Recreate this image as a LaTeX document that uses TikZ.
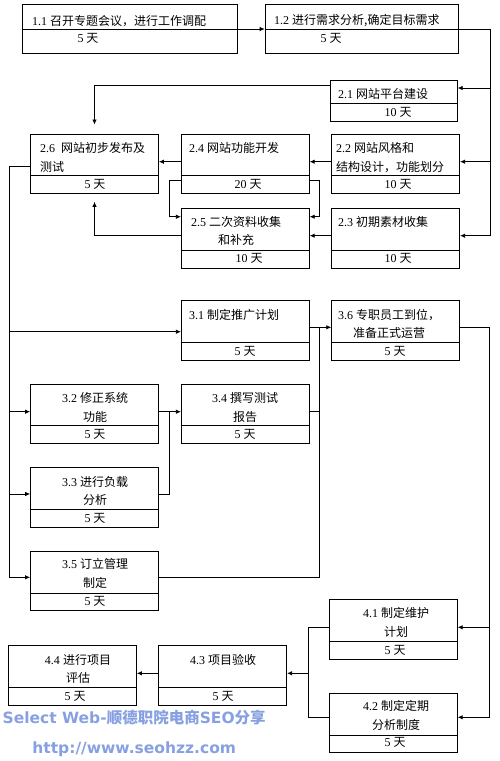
\documentclass[tikz,border=0pt]{standalone}
\usepackage{fontspec}
\setmainfont{Liberation Serif}
\newfontfamily\zhfont{Noto Sans CJK SC}
\newfontfamily\wmfont{DejaVu Sans}
\newcommand{\zh}[1]{{\zhfont #1}}
\usepackage{tikz}
\usetikzlibrary{positioning,arrows.meta}
\definecolor{wmblue}{RGB}{135,160,225}

\begin{document}
\begin{tikzpicture}[
      x=1pt, y=-1pt,
      font=\fontsize{12}{18.4}\selectfont,
      task/.style={draw, line width=.8pt, minimum width=128pt, minimum height=59.5pt, inner sep=0pt},
      lbl/.style={inner sep=0pt, align=center},
      arrow/.style={-{Latex[length=5pt,width=4.5pt]}, line width=.8pt},
      wm/.style={inner sep=0pt, text=wmblue, font=\wmfont\bfseries\fontsize{15.5}{15.5}\selectfont},
    ]
      \useasboundingbox (0,0) rectangle (500,761);
      % phase 1
      \node[task, minimum width=214.6pt, minimum height=48.6pt] (b11) at (130,29) {};
      \node[task, right=27pt of b11, minimum width=193.4pt, minimum height=48.6pt] (b12) {};
      % phase 2
      \node[task, minimum width=127.3pt, minimum height=41pt] (b21) at (393.65,100.5) {};
      \node[task] (b26) at (94.5,163.65) {};
      \node[task, right=22pt of b26] (b24) {};
      \node[task, right=21.6pt of b24] (b22) {};
      \node[task, below=14.4pt of b24] (b25) {};
      \node[task, right=21.6pt of b25] (b23) {};
      % phase 3
      \node[task, below=31.7pt of b25] (b31) {};
      \node[task, right=21.6pt of b31] (b36) {};
      \node[task] (b32) at (94.5,413.65) {};
      \node[task, right=22pt of b32] (b34) {};
      \node[task, below=23.4pt of b32] (b33) {};
      \node[task, below=23.4pt of b33] (b35) {};
      % phase 4
      \node[task] (b41) at (393.3,629.15) {};
      \node[task, below=33.3pt of b41] (b42) {};
      \node[task] (b43) at (222.7,675.35) {};
      \node[task, left=21.4pt of b43] (b44) {};

      % dividers
      \draw[line width=.8pt] (b11.west) -- (b11.east);
      \draw[line width=.8pt] (b12.west) -- (b12.east);
      \foreach \b in {b21,b26,b24,b22,b25,b23,b31,b36,b32,b34,b33,b35,b41,b42,b43,b44}
        \draw[line width=.8pt] ([yshift=18pt]\b.south west) -- ([yshift=18pt]\b.south east);

      % task names
      \node[lbl, anchor=west] (t11) at (32,20.7) {1.1 \zh{召开专题会议，进行工作调配}};
      \node[lbl, anchor=west] (t12) at (274,20.7) {1.2 \zh{进行需求分析,确定目标需求}};
      \node[lbl, anchor=west] (t21) at (338,94) {2.1 \zh{网站平台建设}};
      \node[lbl, anchor=west, align=left] (t26) at (40,157.5) {2.6\ \ \zh{网站初步发布及}\\\zh{测试}};
      \node[lbl, anchor=west] (t24) at (189,148.3) {2.4 \zh{网站功能开发}};
      \node[lbl, anchor=west, align=left] (t22) at (336,157.5) {2.2 \zh{网站风格和}\\\zh{结构设计，功能划分}};
      \node[lbl] (t25) at (236,231.2) {2.5 \zh{二次资料收集}\\\zh{和补充}};
      \node[lbl, anchor=west] (t23) at (338,222.3) {2.3 \zh{初期素材收集}};
      \node[lbl, anchor=west] (t31) at (189,315) {3.1 \zh{制定推广计划}};
      \node[lbl] (t36) at (389,324.2) {3.6 \zh{专职员工到位，}\\\zh{准备正式运营}};
      \node[lbl] (t32) at (95,407.5) {3.2 \zh{修正系统}\\\zh{功能}};
      \node[lbl] (t34) at (245,407.5) {3.4 \zh{撰写测试}\\\zh{报告}};
      \node[lbl] (t33) at (95,490.8) {3.3 \zh{进行负载}\\\zh{分析}};
      \node[lbl] (t35) at (95,573.3) {3.5 \zh{订立管理}\\\zh{制定}};
      \node[lbl] (t41) at (396,622.5) {4.1 \zh{制定维护}\\\zh{计划}};
      \node[lbl] (t42) at (396,715.5) {4.2 \zh{制定定期}\\\zh{分析制度}};
      \node[lbl] (t43) at (223,660) {4.3 \zh{项目验收}};
      \node[lbl] (t44) at (78,669.2) {4.4 \zh{进行项目}\\\zh{评估}};

      % durations
      \node[lbl] (d11) at (88,38) {5 \zh{天}};
      \node[lbl] (d12) at (331,38) {5 \zh{天}};
      \node[lbl] (d21) at (398,112) {10 \zh{天}};
      \node[lbl] (d26) at (95,184.5) {5 \zh{天}};
      \node[lbl] (d24) at (248,184.5) {20 \zh{天}};
      \node[lbl] (d22) at (398,184.5) {10 \zh{天}};
      \node[lbl] (d25) at (249,258.5) {10 \zh{天}};
      \node[lbl] (d23) at (398,258.5) {10 \zh{天}};
      \node[lbl] (d31) at (245,351.7) {5 \zh{天}};
      \node[lbl] (d36) at (395,351.7) {5 \zh{天}};
      \node[lbl] (d32) at (95,434.3) {5 \zh{天}};
      \node[lbl] (d34) at (245,434.3) {5 \zh{天}};
      \node[lbl] (d33) at (95,518) {5 \zh{天}};
      \node[lbl] (d35) at (95,601) {5 \zh{天}};
      \node[lbl] (d41) at (395,650) {5 \zh{天}};
      \node[lbl] (d42) at (395,742.7) {5 \zh{天}};
      \node[lbl] (d43) at (223,696) {5 \zh{天}};
      \node[lbl] (d44) at (75,696) {5 \zh{天}};

      % bend points
      \coordinate (rbt) at (490.7,29);
      \coordinate (lbt) at (9,166.7);
      \coordinate (j24l) at (169.3,180.7);
      \coordinate (j24r) at (319.3,180.7);
      \coordinate (j36) at (319.3,327.3);
      \coordinate (j34) at (169.3,411.7);
      \coordinate (rbm) at (489.3,327.3);
      \coordinate (j4) at (308.3,627.3);

      % connectors
      \draw[arrow] (b11) -- (b12);
      \draw[arrow] (b12) -- (rbt) |- (b23.east |- 0,235.7);
      \draw[arrow] (rbt |- 0,88) -- (b21.east |- 0,88);
      \draw[arrow] (rbt |- 0,161.7) -- (b22.east |- 0,161.7);
      \draw[arrow, shorten >=9pt] (b21.west |- 0,85) -| (b26.north);
      \draw[arrow] (b22.west |- 0,161.7) -- (b24.east |- 0,161.7);
      \draw[arrow] (b24.west |- 0,161.7) -- (b26.east |- 0,161.7);
      \draw[arrow] (b23.west |- 0,235.7) -- (b25.east |- 0,235.7);
      \draw[arrow, shorten >=8pt] (b25.west |- 0,235.7) -| (b26.south);
      \draw[arrow] (b24.west |- j24l) -- (j24l) |- (b25.west |- 0,216.7);
      \draw[arrow] (b24.east |- j24r) -- (j24r) |- (b25.east |- 0,216.7);
      \draw[arrow] (b26.west |- lbt) -- (lbt) |- (b35.west |- 0,577.3);
      \draw[arrow] (lbt |- 0,331.7) -- (b31.west |- 0,331.7);
      \draw[arrow] (lbt |- 0,411.7) -- (b32.west |- 0,411.7);
      \draw[arrow] (lbt |- 0,494) -- (b33.west |- 0,494);
      \draw[line width=.8pt] (b31.east |- j36) -- (j36);
      \draw[arrow] (b35.east |- 0,577.3) -| (j36) -- (b36.west |- j36);
      \draw[line width=.8pt] (b34.east |- j34) -- (j36 |- j34);
      \draw[arrow] (b32.east |- j34) -- (b34.west |- j34);
      \draw[line width=.8pt] (b33.east |- 0,494) -| (j34);
      \draw[arrow] (b36.east |- rbm) -- (rbm) |- (b42.east |- 0,717.3);
      \draw[arrow] (rbm |- j4) -- (b41.east |- j4);
      \draw[line width=.8pt] (b41.west |- j4) -- (j4) |- (b42.west |- 0,717.3);
      \draw[arrow] (j4 |- 0,673.3) -- (b43.east |- 0,673.3);
      \draw[arrow] (b43.west |- 0,673.3) -- (b44.east |- 0,673.3);

      % watermark
      \node[wm] (wm1) at (134.2,717.7) {Select Web-\zh{顺德职院电商}SEO\zh{分享}};
      \node[wm] (wm2) at (134.2,749.3) {http://www.seohzz.com};
    \end{tikzpicture}
\end{document}
